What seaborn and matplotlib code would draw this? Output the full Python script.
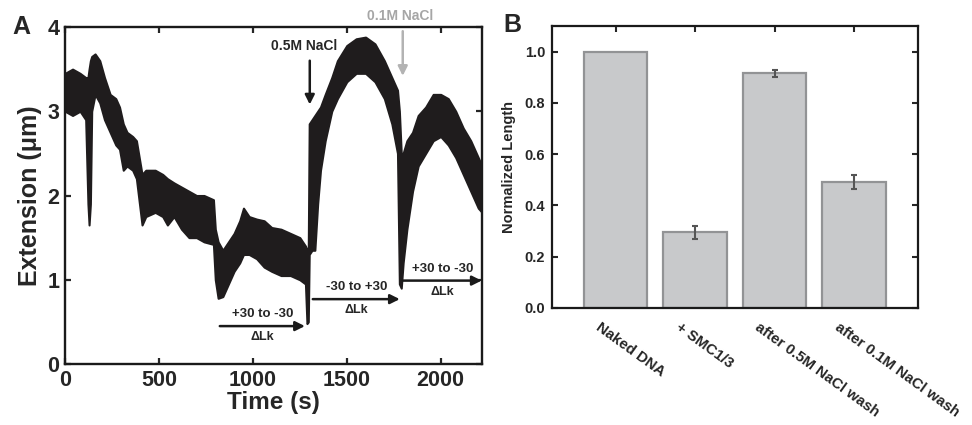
import numpy as np
import pandas as pd
import matplotlib
matplotlib.use("Agg")
import matplotlib.pyplot as plt
import matplotlib.transforms as mtransforms
import seaborn as sns

time_s = [0, 40, 80, 110, 122, 128, 135, 142, 160, 185, 210, 240, 270, 290, 310, 330,
          360, 380, 410, 430, 480, 520, 545, 580, 620, 660, 700, 740, 790, 800, 815,
          840, 870, 900, 930, 950, 980, 1020, 1060, 1100, 1150, 1200, 1250, 1280, 1288,
          1295, 1300, 1315, 1330, 1345, 1360, 1385, 1420, 1450, 1500, 1550, 1600, 1650,
          1700, 1740, 1770, 1780, 1790, 1800, 1820, 1850, 1880, 1920, 1960, 2000, 2040,
          2080, 2120, 2160, 2200, 2220]
ext_low = [3.0, 2.95, 3.0, 2.9, 1.9, 1.65, 1.9, 3.0, 3.2, 3.1, 2.9, 2.75, 2.6, 2.55, 2.3, 2.35,
           2.3, 2.2, 1.65, 1.75, 1.8, 1.75, 1.65, 1.75, 1.6, 1.5, 1.5, 1.45, 1.42, 1.0, 0.78,
           0.8, 0.95, 1.1, 1.2, 1.3, 1.3, 1.25, 1.15, 1.1, 1.05, 1.05, 1.0, 0.95, 0.48,
           0.5, 1.3, 1.35, 1.35, 1.9, 2.3, 2.65, 3.0, 3.15, 3.35, 3.45, 3.45, 3.35,
           3.15, 2.85, 2.5, 0.95, 0.9, 1.2, 1.6, 2.05, 2.35, 2.5, 2.65, 2.7, 2.6,
           2.45, 2.25, 2.05, 1.85, 1.8]
ext_high = [3.45, 3.5, 3.45, 3.4, 3.4, 3.5, 3.6, 3.65, 3.68, 3.6, 3.4, 3.2, 3.15, 3.05, 2.85, 2.75,
            2.7, 2.65, 2.25, 2.3, 2.3, 2.25, 2.2, 2.15, 2.1, 2.05, 2.0, 2.0, 1.95, 1.6, 1.45,
            1.35, 1.45, 1.55, 1.7, 1.85, 1.75, 1.72, 1.7, 1.62, 1.6, 1.55, 1.5, 1.4, 1.35,
            1.35, 2.85, 2.9, 2.95, 3.0, 3.05, 3.2, 3.4, 3.6, 3.78, 3.86, 3.88, 3.8,
            3.6, 3.4, 3.25, 3.0, 2.5, 2.5, 2.65, 2.75, 2.95, 3.05, 3.2, 3.2, 3.15,
            3.0, 2.8, 2.65, 2.45, 2.35]

# Panel B: normalized length bars
conditions = ["Naked DNA", "+ SMC1/3", "after 0.5M NaCl wash", "after 0.1M NaCl wash"]
norm_length = [1.0, 0.295, 0.915, 0.493]
norm_err = [0.0, 0.025, 0.012, 0.027]

sns.set_style("ticks")
plt.rcParams['font.family'] = ['Liberation Sans', 'DejaVu Sans']
plt.rcParams['font.weight'] = 'bold'

fig = plt.figure(figsize=(9.72, 4.25), dpi=100)
axA = fig.add_axes([0.0669, 0.1435, 0.429, 0.793])
axB = fig.add_axes([0.568, 0.2753, 0.376, 0.6635])

# ---- panel A
axA.fill_between(time_s, ext_low, ext_high, color='#1f1c1d', lw=1.5, edgecolor='#1f1c1d')
axA.set_xlim(0, 2220)
axA.set_ylim(0, 4)
axA.set_xticks([0, 500, 1000, 1500, 2000])
axA.set_yticks([0, 1, 2, 3, 4])
axA.tick_params(direction='in', length=4, width=1.6, top=True, right=True,
                labelsize=15.5, pad=4)
for lab in axA.get_xticklabels() + axA.get_yticklabels():
    lab.set_fontweight('bold')
axA.set_xlabel("Time (s)", fontsize=17.5, fontweight='bold', labelpad=0)
axA.set_ylabel("Extension (μm)", fontsize=18, fontweight='bold', labelpad=4)
for sp in axA.spines.values():
    sp.set_linewidth(1.7)
    sp.set_color('#1a1a1a')

arrow_k = dict(arrowstyle='-|>', color='#1a1a1a', lw=1.8, mutation_scale=14, shrinkA=0, shrinkB=0)
axA.annotate("", xy=(1303, 3.08), xytext=(1303, 3.6), arrowprops=arrow_k)
axA.text(1274, 3.77, "0.5M NaCl", ha='center', va='center', fontsize=10, fontweight='bold')
arrow_g = dict(arrowstyle='-|>', color='#b3b3b3', lw=1.8, mutation_scale=14, shrinkA=0, shrinkB=0)
axA.annotate("", xy=(1798, 3.42), xytext=(1798, 3.95), arrowprops=arrow_g, annotation_clip=False)
axA.text(1782, 4.13, "0.1M NaCl", ha='center', va='center', fontsize=10, fontweight='bold',
         color='#a6a6a6', clip_on=False)

lk_arrows = [(824, 1277, 0.45, "+30 to -30"), (1319, 1782, 0.77, "-30 to +30"),
             (1798, 2218, 0.99, "+30 to -30")]
for x0, x1, yy, lab in lk_arrows:
    axA.annotate("", xy=(x1, yy), xytext=(x0, yy), arrowprops=arrow_k, annotation_clip=False)
    xm = (x0 + x1) / 2
    axA.text(xm, yy + 0.14, lab, ha='center', va='center', fontsize=9.5, fontweight='bold')
    axA.text(xm, yy - 0.13, "ΔLk", ha='center', va='center', fontsize=9, fontweight='bold')

# ---- panel B
df = pd.DataFrame({"condition": conditions, "length": norm_length})
sns.barplot(data=df, x="condition", y="length", ax=axB, color='#c8c9cb', saturation=1,
            edgecolor='#929395', linewidth=1.6, width=0.8, errorbar=None)
axB.errorbar(np.arange(len(conditions))[1:], norm_length[1:], yerr=norm_err[1:], fmt='none',
             ecolor='#555555', elinewidth=1.5, capsize=2.5, capthick=1.5)
axB.set_xlim(-0.8, 3.8)
axB.set_ylim(0, 1.1)
axB.set_yticks([0.0, 0.2, 0.4, 0.6, 0.8, 1.0])
axB.set_yticklabels(["0.0", "0.2", "0.4", "0.6", "0.8", "1.0"], fontsize=10.5, fontweight='bold')
axB.set_xlabel("")
axB.set_ylabel("Normalized Length", fontsize=10.5, fontweight='bold', labelpad=6)
axB.tick_params(direction='in', length=4, width=1.5, top=True, right=True, pad=5)
axB.set_xticks(range(len(conditions)))
axB.set_xticklabels(conditions, rotation=-36, ha='left', va='top', rotation_mode='anchor',
                    fontsize=10.8, fontweight='bold')
shift = mtransforms.ScaledTranslation(-14 / 100, -5 / 100, fig.dpi_scale_trans)
for lab in axB.get_xticklabels():
    lab.set_transform(lab.get_transform() + shift)
for sp in axB.spines.values():
    sp.set_linewidth(1.6)
    sp.set_color('#1a1a1a')

fig.text(12 / 972, 1 - 27 / 425, "A", fontsize=18, fontweight='bold', ha='left', va='center')
fig.text(503 / 972, 1 - 25 / 425, "B", fontsize=18, fontweight='bold', ha='left', va='center')

fig.savefig("out.png", dpi=100)
